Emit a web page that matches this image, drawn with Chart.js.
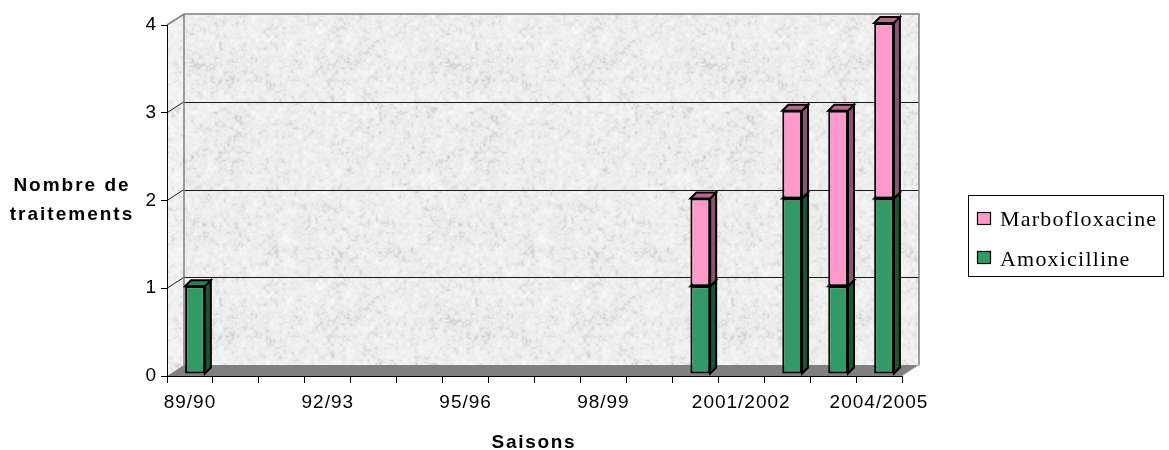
<!DOCTYPE html>
<html>
<head>
<meta charset="utf-8">
<script src="https://cdn.jsdelivr.net/npm/chart.js@4/dist/chart.umd.min.js"></script>
<style>
  html, body { margin: 0; padding: 0; background: #fff; }
  #wrap { width: 1169px; height: 450px; position: relative; }
</style>
</head>
<body>
<div id="wrap"><canvas id="c" width="1169" height="450"></canvas></div>
<script>
// Saisons et nombre de traitements par molécule
const seasons = ['89/90', '90/91', '91/92', '92/93', '93/94', '94/95', '95/96', '96/97',
                 '97/98', '98/99', '1999/2000', '2000/2001', '2001/2002', '2002/2003',
                 '2003/2004', '2004/2005'];
const amoxicilline   = [1, null, null, null, null, null, null, null, null, null, null, 1, null, 2, 1, 2];
const marbofloxacine = [null, null, null, null, null, null, null, null, null, null, null, 1, null, 1, 2, 2];
const yMax = 4;
const labelEvery = 3;

const AXIS_FONT = 'Liberation Sans';
const LEGEND_FONT = 'Liberation Serif';

// Pseudo-3D geometry (pixels)
const WALL_DEPTH = { x: 17, y: -11 };
const BAR_SHIFT = { x: 5, y: -2 };
const BAR_DEPTH = 6;

// Stone-like texture for the walls (deterministic value noise)
function makeStone(base, range) {
  const S = 256;
  const c = document.createElement('canvas');
  c.width = c.height = S;
  const g = c.getContext('2d');
  const img = g.createImageData(S, S);
  const hash = (x, y, k) => {
    let n = (Math.imul(x, 374761393) + Math.imul(y, 668265263) + Math.imul(k, 2246822519)) | 0;
    n = Math.imul(n ^ (n >>> 13), 1274126177);
    n ^= n >>> 16;
    return (n >>> 0) / 4294967296;
  };
  const noise = (x, y, s, k) => {
    const cells = S / s;
    const X = Math.floor(x / s), Y = Math.floor(y / s);
    const fx = x / s - X, fy = y / s - Y;
    const ux = fx * fx * (3 - 2 * fx), uy = fy * fy * (3 - 2 * fy);
    const a = hash(X % cells, Y % cells, k), b = hash((X + 1) % cells, Y % cells, k);
    const cc = hash(X % cells, (Y + 1) % cells, k), d = hash((X + 1) % cells, (Y + 1) % cells, k);
    return (a * (1 - ux) + b * ux) * (1 - uy) + (cc * (1 - ux) + d * ux) * uy;
  };
  for (let y = 0; y < S; y++) {
    for (let x = 0; x < S; x++) {
      const n = 0.2 * noise(x, y, 16, 1) + 0.4 * noise(x, y, 4, 2) + 0.4 * noise(x, y, 2, 3);
      let v = base - (n - 0.5) * range * 2;
      if (n > 0.62) v -= (n - 0.62) * 70;
      v = Math.max(0, Math.min(255, v));
      const i = (y * S + x) * 4;
      img.data[i] = img.data[i + 1] = img.data[i + 2] = v;
      img.data[i + 3] = 255;
    }
  }
  g.putImageData(img, 0, 0);
  return c;
}

const ctx = document.getElementById('c').getContext('2d');
const backStone = ctx.createPattern(makeStone(237, 14), 'repeat');
const sideStone = ctx.createPattern(makeStone(241, 11), 'repeat');

function poly(c, pts, fill, stroke, lw) {
  c.beginPath();
  c.moveTo(pts[0][0], pts[0][1]);
  for (let i = 1; i < pts.length; i++) c.lineTo(pts[i][0], pts[i][1]);
  c.closePath();
  if (fill) { c.fillStyle = fill; c.fill(); }
  if (stroke) { c.strokeStyle = stroke; c.lineWidth = lw || 1; c.stroke(); }
}

// Back wall, side wall, floor and gridlines
const wallsPlugin = {
  id: 'walls',
  beforeDraw(chart) {
    const c = chart.ctx;
    const xs = chart.scales.x, ys = chart.scales.y;
    const L = xs.left, R = xs.right;
    const B = ys.getPixelForValue(0), T = ys.getPixelForValue(yMax);
    const dx = WALL_DEPTH.x, dy = WALL_DEPTH.y;
    c.save();
    c.fillStyle = '#fff';
    c.fillRect(0, 0, chart.width, chart.height);
    // back wall
    c.fillStyle = backStone;
    c.fillRect(L + dx, T + dy, R - L, B - T);
    // side wall
    poly(c, [[L, T], [L + dx, T + dy], [L + dx, B + dy], [L, B]], sideStone);
    // floor
    poly(c, [[L, B], [R, B], [R + dx, B + dy], [L + dx, B + dy]], '#808080');
    // gridlines
    for (let v = 1; v < yMax; v++) {
      const y = ys.getPixelForValue(v);
      c.strokeStyle = '#1a1a1a';
      c.lineWidth = 1;
      c.beginPath();
      c.moveTo(L + dx, Math.round(y + dy) + 0.5);
      c.lineTo(R + dx, Math.round(y + dy) + 0.5);
      c.moveTo(L, y);
      c.lineTo(L + dx, y + dy);
      c.stroke();
    }
    // wall outline
    c.strokeStyle = '#808080';
    c.lineWidth = 1.5;
    c.beginPath();
    c.moveTo(L, T);
    c.lineTo(L + dx, T + dy);
    c.lineTo(R + dx, T + dy);
    c.lineTo(R + dx, B + dy);
    c.moveTo(L + dx, T + dy);
    c.lineTo(L + dx, B + dy);
    c.stroke();
    c.strokeStyle = '#c8c8c8';
    c.lineWidth = 1;
    c.beginPath();
    c.moveTo(R, B);
    c.lineTo(R + dx, B + dy);
    c.stroke();
    c.restore();
  }
};

// Bars drawn as boxes: front face by Chart.js, then side and top faces
const faceColors = [
  { side: '#1d5438', top: '#2b8055' },   // Amoxicilline
  { side: '#8a5370', top: '#b8678f' }    // Marbofloxacine
];
const bar3dPlugin = {
  id: 'bar3d',
  beforeDatasetDraw() { return false; },
  afterDatasetsDraw(chart) {
    const c = chart.ctx;
    c.save();
    c.translate(BAR_SHIFT.x, BAR_SHIFT.y);
    const d = BAR_DEPTH;
    const n = chart.data.labels.length;
    for (let i = 0; i < n; i++) {
      chart.data.datasets.forEach((ds, di) => {
        if (ds.data[i] == null) return;
        const bar = chart.getDatasetMeta(di).data[i];
        const { x, y, base, width } = bar.getProps(['x', 'y', 'base', 'width'], true);
        const x0 = x - width / 2, x1 = x + width / 2;
        bar.draw(c);
        c.lineJoin = 'miter';
        poly(c, [[x1, base], [x1 + d, base - d], [x1 + d, y - d], [x1, y]], faceColors[di].side, '#000', 2);
        poly(c, [[x0, y], [x1, y], [x1 + d, y - d], [x0 + d, y - d]], faceColors[di].top, '#000', 2);
      });
    }
    c.restore();
  }
};

// Axis titles and legend
function spacedText(c, text, x, y, font, spacing, align) {
  c.font = font;
  c.letterSpacing = spacing + 'px';
  c.textAlign = align;
  c.textBaseline = 'alphabetic';
  c.fillStyle = '#000';
  c.fillText(text, x, y);
}
const textPlugin = {
  id: 'texts',
  beforeDraw(chart) { chart.ctx.letterSpacing = '1px'; },
  afterDraw(chart) {
    const c = chart.ctx;
    c.save();
    const bold = 'bold 19px "' + AXIS_FONT + '"';
    spacedText(c, 'Nombre de', 72, 191, bold, 2, 'center');
    spacedText(c, 'traitements', 72, 220, bold, 2, 'center');
    spacedText(c, 'Saisons', 534, 448, bold, 1.7, 'center');
    // legend box
    c.letterSpacing = '0px';
    c.strokeStyle = '#000';
    c.lineWidth = 1;
    c.strokeRect(968.5, 195.5, 195, 81);
    const items = [1, 0].map(di => chart.data.datasets[di]);
    const rows = [{ sq: 212, base: 226 }, { sq: 251, base: 266 }];
    items.forEach((ds, k) => {
      c.fillStyle = ds.backgroundColor;
      c.fillRect(977.5, rows[k].sq + 0.5, 13, 12);
      c.strokeStyle = '#000';
      c.lineWidth = 1.2;
      c.strokeRect(977.5, rows[k].sq + 0.5, 13, 12);
      spacedText(c, ds.label, 1000, rows[k].base, '22px "' + LEGEND_FONT + '"', 1.2, 'left');
    });
    c.restore();
  }
};

const barStyle = {
  borderColor: '#000',
  borderWidth: 2,
  borderSkipped: false,
  barPercentage: 0.43,
  categoryPercentage: 1,
  clip: false
};

new Chart(ctx, {
  type: 'bar',
  data: {
    labels: seasons,
    datasets: [
      Object.assign({ label: 'Amoxicilline', data: amoxicilline, backgroundColor: '#339966' }, barStyle),
      Object.assign({ label: 'Marbofloxacine', data: marbofloxacine, backgroundColor: '#ff99cc' }, barStyle)
    ]
  },
  options: {
    responsive: false,
    animation: false,
    events: [],
    layout: { padding: { top: 25, right: 267, left: 0, bottom: 0 } },
    plugins: { legend: { display: false }, tooltip: { enabled: false } },
    scales: {
      x: {
        stacked: true,
        offset: true,
        afterFit(s) { s.height = 74; },
        grid: { offset: true, drawOnChartArea: false, tickLength: 7, color: '#000', lineWidth: 1 },
        border: { color: '#000', width: 1 },
        ticks: {
          autoSkip: false,
          maxRotation: 0,
          minRotation: 0,
          padding: 8,
          color: '#000',
          font: { family: AXIS_FONT, size: 19 },
          callback(v, i) { return i % labelEvery === 0 ? seasons[i] : ''; }
        }
      },
      y: {
        stacked: true,
        min: 0,
        max: yMax,
        afterFit(s) { s.width = 167; },
        grid: { drawOnChartArea: false, tickLength: 6, color: '#000', lineWidth: 1 },
        border: { color: '#000', width: 1 },
        ticks: {
          stepSize: 1,
          padding: 4,
          color: '#000',
          font: { family: AXIS_FONT, size: 19 }
        }
      }
    }
  },
  plugins: [wallsPlugin, bar3dPlugin, textPlugin]
});
</script>
</body>
</html>
